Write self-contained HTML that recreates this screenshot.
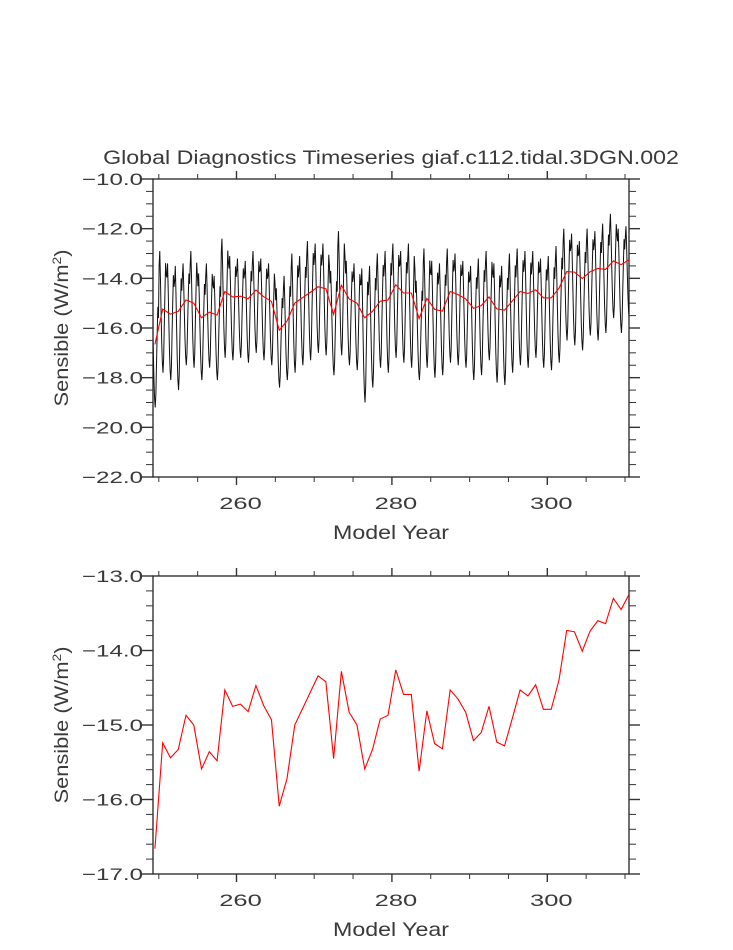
<!DOCTYPE html>
<html><head><meta charset="utf-8"><style>
body{margin:0;background:#fff}
svg text{font-family:"Liberation Sans",sans-serif;fill:#3a3a3a}
</style></head><body>
<svg id="chart" width="733" height="945" xmlns="http://www.w3.org/2000/svg">
<defs>
<clipPath id="c1"><rect x="153" y="179" width="476" height="298"/></clipPath>
<clipPath id="c2"><rect x="153" y="576" width="476" height="298"/></clipPath>
</defs>
<text transform="translate(391 164) scale(1.19 1)" font-size="19.5" text-anchor="middle">Global Diagnostics Timeseries giaf.c112.tidal.3DGN.002</text>
<g id="top"></g><g id="bot"></g>
</svg>
<script>
const years=[];for(let i=0;i<62;i++)years.push(249.5+i);
const annualMean=[-16.66,-15.24,-15.44,-15.33,-14.87,-15.00,-15.59,-15.36,-15.48,-14.53,-14.75,-14.72,-14.82,-14.47,-14.74,-14.93,-16.09,-15.72,-15.00,-14.78,-14.56,-14.34,-14.42,-15.45,-14.28,-14.83,-15.00,-15.59,-15.33,-14.92,-14.87,-14.26,-14.59,-14.59,-15.62,-14.81,-15.25,-15.32,-14.53,-14.65,-14.83,-15.21,-15.10,-14.75,-15.23,-15.28,-14.91,-14.53,-14.61,-14.46,-14.79,-14.79,-14.40,-13.73,-13.75,-14.01,-13.74,-13.60,-13.64,-13.30,-13.45,-13.25];
const yearMax=[-14.7,-12.9,-13.4,-13.5,-13.4,-12.9,-13.8,-13.4,-13.9,-12.4,-13.1,-13.2,-13.3,-12.9,-13.2,-13.4,-14.4,-13.9,-13.0,-13.1,-12.5,-12.6,-12.6,-13.7,-12.1,-13.3,-13.4,-13.6,-13.5,-13.0,-12.9,-12.6,-12.9,-12.6,-14.1,-12.8,-13.3,-13.4,-12.8,-13.0,-13.3,-13.5,-13.2,-12.9,-13.4,-13.5,-13.0,-12.8,-12.9,-12.9,-13.2,-13.1,-12.7,-12.0,-12.2,-12.5,-12.0,-12.1,-11.8,-11.4,-12.0,-11.9];
const yearMin=[-19.2,-17.8,-18.1,-18.5,-17.5,-17.6,-18.1,-17.6,-18.1,-17.2,-17.3,-17.2,-17.4,-17.0,-17.3,-17.5,-18.4,-18.1,-17.8,-17.5,-17.3,-17.0,-17.1,-17.9,-17.1,-17.5,-17.7,-19.0,-18.4,-17.6,-17.8,-17.2,-17.4,-17.6,-18.1,-17.6,-18.0,-17.9,-17.4,-17.5,-17.6,-18.1,-17.9,-17.3,-18.2,-18.3,-17.8,-17.5,-17.6,-17.2,-17.6,-17.7,-17.4,-16.5,-16.7,-16.9,-16.3,-16.5,-16.2,-15.6,-16.2,-15.6];
const monthShape=[0.88,1.0,0.78,0.5,0.25,0.08,0.0,0.12,0.4,0.66,0.9,0.8];
const xTicks=[260,280,300];
const topYTicks=[-10,-12,-14,-16,-18,-20,-22];
const botYTicks=[-13,-14,-15,-16,-17];

const NS="http://www.w3.org/2000/svg";
const X0=153,X1=629,xScale=y=>236.5+(y-260)*7.77;
function mk(p,t,a){const e=document.createElementNS(NS,t);for(const k in a)e.setAttribute(k,a[k]);p.appendChild(e);return e;}
function panel(g,top,bot,vmax,vmin,ticks,minorStep,clip,withMonthly){
  const ys=v=>top+(vmax-v)/(vmax-vmin)*(bot-top);
  const fr=mk(g,'rect',{x:X0,y:top,width:X1-X0,height:bot-top,fill:'none',stroke:'#222','stroke-width':1.3});
  
  
  for(let yr=250;yr<=310;yr+=5){
    const x=xScale(yr),maj=yr%20==0,L=maj?8:5;
    mk(g,'line',{x1:x,x2:x,y1:top,y2:top-L,stroke:'#333','stroke-width':maj?1.4:1});
    mk(g,'line',{x1:x,x2:x,y1:bot,y2:bot+L,stroke:'#333','stroke-width':maj?1.4:1});
  }
  xTicks.forEach(v=>{const t=mk(g,'text',{transform:`translate(${xScale(v)+4} ${bot+32}) scale(1.5 1)`,'font-size':17,'text-anchor':'middle'});t.textContent=v;
    
    });
  for(let v=vmax;v>=vmin-1e-6;v-=minorStep){
    const y=ys(v),maj=ticks.some(t=>Math.abs(t-v)<1e-6),L=maj?11:7;
    mk(g,'line',{x1:X0,x2:X0-L,y1:y,y2:y,stroke:'#333','stroke-width':maj?1.4:1});
    mk(g,'line',{x1:X1,x2:X1+L,y1:y,y2:y,stroke:'#333','stroke-width':maj?1.4:1});
  }
  ticks.forEach(v=>{const t=mk(g,'text',{transform:`translate(${X0-10} ${ys(v)+6}) scale(1.42 1)`,'font-size':17,'text-anchor':'end'});t.textContent='\u2212'+Math.abs(v).toFixed(1);
    
    });
  const xt=mk(g,'text',{transform:`translate(391 ${bot+62}) scale(1.22 1)`,'font-size':19,'text-anchor':'middle'});xt.textContent='Model Year';
  
  
  const cy=(top+bot)/2;
  const yt=mk(g,'text',{'font-size':19,'text-anchor':'middle',transform:`translate(68 ${cy}) rotate(-90) scale(1.15 1)`});
  yt.innerHTML='Sensible (W/m<tspan dy="-7" font-size="12">2</tspan><tspan dy="7">)</tspan>';
  
  
  const cg=mk(g,'g',{'clip-path':`url(#${clip})`});
  if(withMonthly){
    let pts=[];
    for(let i=0;i<years.length;i++)for(let m=0;m<12;m++){
      const v=yearMin[i]+(yearMax[i]-yearMin[i])*monthShape[m];
      pts.push(xScale(years[i]-0.5+(m+0.5)/12).toFixed(2)+','+ys(v).toFixed(2));
    }
    const ml=mk(cg,'polyline',{points:pts.join(' '),fill:'none',stroke:'#111','stroke-width':1});
    
    
  }
  const ap=years.map((y,i)=>xScale(y).toFixed(2)+','+ys(annualMean[i]).toFixed(2)).join(' ');
  const al=mk(cg,'polyline',{points:ap,fill:'none',stroke:'#f00','stroke-width':1.1});
  
  
}
const gt=document.getElementById('top');


const gb=document.getElementById('bot');


panel(gt,179,477,-10,-22,topYTicks,0.5,'c1',true);
panel(gb,576,874,-13,-17,botYTicks,0.2,'c2',false);
</script>
</body></html>
